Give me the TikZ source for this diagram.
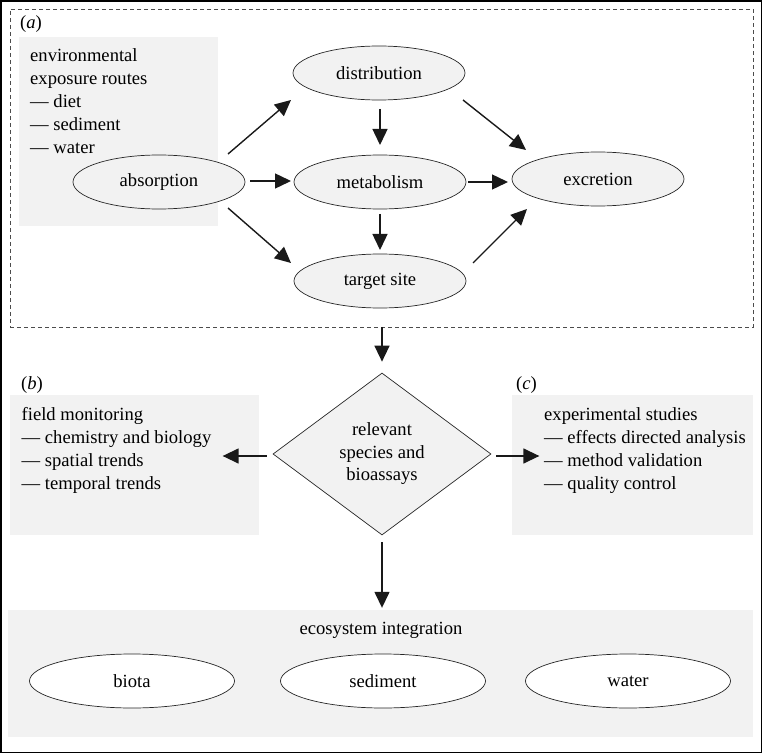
\documentclass[tikz,border=0pt]{standalone}
\usepackage{fontspec}
\setmainfont{Liberation Serif}
\usetikzlibrary{shapes.geometric,arrows.meta,calc}
\newcommand{\dfont}{\fontsize{18.6}{23}\selectfont}
\tikzset{
  ell/.style={ellipse, draw=black!85, line width=0.7pt, fill=gray!10, minimum width=172pt, minimum height=54pt, inner sep=0pt, font=\dfont},
  well/.style={ellipse, draw=black!85, line width=0.7pt, fill=white, minimum width=205pt, minimum height=54pt, inner sep=0pt, font=\dfont},
  gbox/.style={rectangle, fill=gray!10, draw=none, inner sep=0pt},
  txt/.style={anchor=base west, inner sep=0pt, font=\dfont},
  arr/.style={line width=1.4pt, draw=black!90, -{Triangle[length=16pt,width=15pt]}},
}
\begin{document}
\begin{tikzpicture}[x=1pt,y=-1pt]
\useasboundingbox (0,0) rectangle (763,754);
% outer frame
\draw[line width=1.5pt] (1,1) rectangle (761.5,752.5);
% section (a)
\node[rectangle, draw=black!70, dashed, dash pattern=on 4pt off 3pt, line width=0.7pt, minimum width=743pt, minimum height=318pt, inner sep=0pt] (boxA) at (381.5,168) {};
\node[txt] (labA) at (20,29) {(\textit{a})};
\node[gbox, minimum width=199pt, minimum height=189pt] (expo) at (118.5,131.5) {};
\foreach \t [count=\i] in {environmental, exposure routes, — diet, — sediment, — water}
  \node[txt] (expo\i) at (30,{62+23*(\i-1)}) {\t};
\node[ell] (abs) at (159,182) {absorption};
\node[ell] (dist) at (379,73) {distribution};
\node[ell] (met) at (380,182) {metabolism};
\node[ell] (tgt) at (380,281) {target site};
\node[ell] (exc) at (598,179) {excretion};
\draw[arr] ($(abs)+(69,-28)$) -- ($(dist)+(-88,27)$);
\draw[arr] ($(abs)+(91,-1)$) -- ($(met)+(-89,-1)$);
\draw[arr] ($(abs)+(69,26)$) -- ($(tgt)+(-89,-18)$);
\draw[arr] ($(dist)+(1,36)$) -- ($(met)+(0,-37)$);
\draw[arr] ($(met)+(0,32)$) -- ($(tgt)+(0,-31)$);
\draw[arr] ($(met)+(88,0)$) -- ($(exc)+(-90,3)$);
\draw[arr] ($(dist)+(84,27)$) -- ($(exc)+(-72,-29)$);
\draw[arr] ($(tgt)+(93,-18)$) -- ($(exc)+(-71,30)$);
% diamond
\node[diamond, draw=black!85, line width=0.7pt, fill=gray!10, minimum width=218pt, minimum height=162pt, inner sep=0pt, align=center, font=\fontsize{18.6}{22.5}\selectfont] (dia) at (382,454) {relevant\\species and\\bioassays};
\draw[arr, shorten >=11pt] (boxA.south -| dia.north) -- (dia.north);
% section (b)
\node[txt] (labB) at (21,389) {(\textit{b})};
\node[gbox, minimum width=249pt, minimum height=140pt] (boxB) at (134.5,465) {};
\foreach \t [count=\i] in {field monitoring, — chemistry and biology, — spatial trends, — temporal trends}
  \node[txt] (fm\i) at (21.5,{420+23*(\i-1)}) {\t};
% section (c)
\node[txt] (labC) at (516,389) {(\textit{c})};
\node[gbox, minimum width=241pt, minimum height=140pt] (boxC) at (632.5,465) {};
\foreach \t [count=\i] in {experimental studies, — effects directed analysis, — method validation, — quality control}
  \node[txt] (es\i) at (544,{420+23*(\i-1)}) {\t};
\coordinate (bTip) at ($(dia.west)+(-50,2)$);
\coordinate (cTip) at ($(dia.east)+(48,2)$);
\draw[arr, shorten <=6pt] ($(dia.west)+(0,2)$) -- (bTip);
\draw[arr, shorten <=5pt] ($(dia.east)+(0,2)$) -- (cTip);
% ecosystem integration
\node[gbox, minimum width=745pt, minimum height=127pt] (boxE) at (380.5,673.5) {};
\draw[arr, shorten <=7pt, shorten >=2pt] (dia.south) -- (boxE.north -| dia.south);
\node[anchor=base, inner sep=0pt, font=\dfont] (eco) at (381,634) {ecosystem integration};
\node[well] (biota) at (132,681) {biota};
\node[well] (sed) at (383,681) {sediment};
\node[well] (water) at (628,681) {water};
\end{tikzpicture}
\end{document}
